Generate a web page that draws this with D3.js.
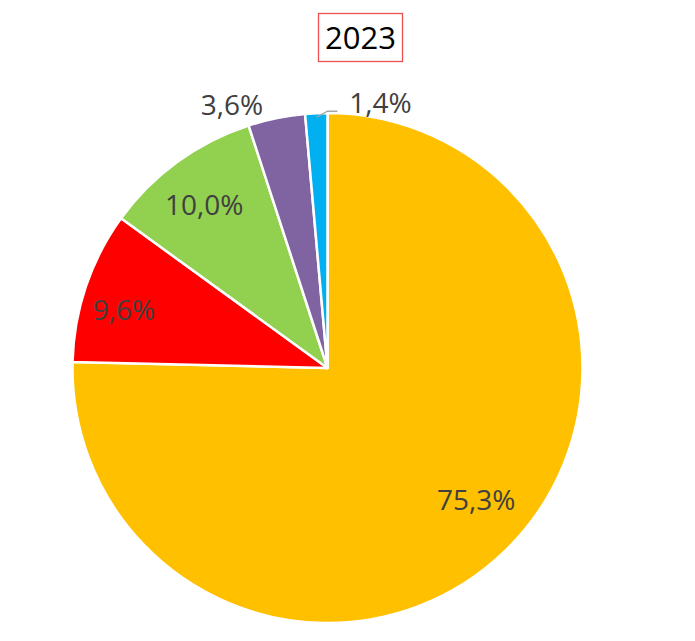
<!DOCTYPE html>
<html><head><meta charset="utf-8">
<script src="https://cdn.jsdelivr.net/npm/d3@7"></script>
<style>body{margin:0;background:#fff;} svg{display:block;}</style>
</head><body>
<svg id="chart" width="695" height="641"></svg>
<script>
const title = "2023";
const categories = ["A", "B", "C", "D", "E"];
const values = [75.3, 9.6, 10.0, 3.6, 1.4];
const labels = ["75,3%", "9,6%", "10,0%", "3,6%", "1,4%"];
const colors = ["#FFC000", "#FF0000", "#92D050", "#8064A2", "#00B0F0"];

const svg = d3.select("#chart");
const cx = 327.5, cy = 368, R = 255;
const font = "'Open Sans', 'Noto Sans', sans-serif";

// title
const tg = svg.append("g");
tg.append("rect").attr("x", 318.5).attr("y", 13.5).attr("width", 84).attr("height", 48)
  .attr("fill", "#fff").attr("stroke", "#F05050").attr("stroke-width", 1.3);
tg.append("text").attr("x", 360.5).attr("y", 49).attr("text-anchor", "middle")
  .attr("font-family", font).attr("font-size", 31).attr("fill", "#000").text(title);

const pie = d3.pie().sort(null).value(d => d)(values);
const arc = d3.arc().innerRadius(0).outerRadius(R);
const g = svg.append("g").attr("transform", `translate(${cx},${cy})`);
g.selectAll("path").data(pie).join("path")
  .attr("d", arc).attr("fill", (d, i) => colors[i])
  .attr("stroke", "#fff").attr("stroke-width", 2.5).attr("stroke-linejoin", "round");

const labelR = [0.78, 0.83, 0.8, 1.1, 1.1];
const angShift = [-0.07, -0.05, -0.02, -0.14, 0.4];
pie.forEach((d, i) => {
  const a = (d.startAngle + d.endAngle) / 2 + angShift[i];
  let x = Math.sin(a) * R * labelR[i], y = -Math.cos(a) * R * labelR[i];
  if (i === 4) {
    const a0 = (d.startAngle + d.endAngle) / 2;
    const p0 = [Math.sin(a0) * (R - 4), -Math.cos(a0) * (R - 4)];
    g.append("polyline")
      .attr("points", `${p0[0]},${p0[1]} ${p0[0] + 11},${p0[1] - 6} ${p0[0] + 21},${p0[1] - 6}`)
      .attr("fill", "none").attr("stroke", "#A6A6A6").attr("stroke-width", 1.3);
    x = p0[0] + 64; y = p0[1] - 14;
  }
  if (i === 3) { x = 232 - cx; y = 105 - cy; }
  g.append("text").attr("x", x).attr("y", y).attr("dy", "0.35em")
    .attr("text-anchor", "middle").attr("font-family", font).attr("font-size", 28)
    .attr("fill", "#404040").text(labels[i]);
});
</script>
</body></html>
